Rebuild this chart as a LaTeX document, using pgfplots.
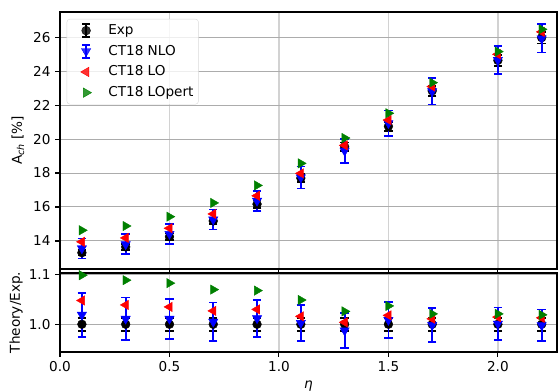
\documentclass[border=0pt]{standalone}
\usepackage{fontspec}
\setmainfont{DejaVu Sans}
\usepackage{pgfplots}
\pgfplotsset{compat=1.18}
\definecolor{mplgreen}{RGB}{0,128,0}
\pgfplotstableread{
x y e
0.1 13.31 0.17
0.3 13.65 0.18
0.5 14.25 0.19
0.7 15.18 0.20
0.9 16.17 0.21
1.1 17.70 0.23
1.3 19.55 0.25
1.5 20.75 0.27
1.7 22.84 0.30
2.0 24.63 0.32
2.2 25.97 0.34
}\exptab
\pgfplotstableread{
x y e
0.1 13.56 0.59
0.3 13.80 0.59
0.5 14.41 0.57
0.7 15.26 0.59
0.9 16.36 0.60
1.1 17.74 0.65
1.3 19.31 0.70
1.5 20.93 0.75
1.7 22.81 0.78
2.0 24.65 0.81
2.2 25.92 0.83
}\nlotab
\pgfplotstableread{
x y
0.1 13.95
0.3 14.18
0.5 14.75
0.7 15.59
0.9 16.66
1.1 17.98
1.3 19.63
1.5 21.12
1.7 23.09
2.0 24.99
2.2 26.31
}\lotab
\pgfplotstableread{
x y
0.1 14.63
0.3 14.88
0.5 15.43
0.7 16.24
0.9 17.27
1.1 18.57
1.3 20.06
1.5 21.52
1.7 23.32
2.0 25.15
2.2 26.46
}\lopttab
\pgfplotstableread{
x y e
0.1 1.0 0.013
0.3 1.0 0.013
0.5 1.0 0.013
0.7 1.0 0.013
0.9 1.0 0.013
1.1 1.0 0.013
1.3 1.0 0.013
1.5 1.0 0.013
1.7 1.0 0.013
2.0 1.0 0.013
2.2 1.0 0.013
}\expr
\pgfplotstableread{
x y e
0.1 1.019 0.044
0.3 1.011 0.043
0.5 1.011 0.040
0.7 1.005 0.039
0.9 1.012 0.037
1.1 1.0025 0.037
1.3 0.9875 0.036
1.5 1.0085 0.036
1.7 0.9985 0.034
2.0 1.001 0.033
2.2 0.998 0.032
}\nlor
\pgfplotstableread{
x y
0.1 1.048
0.3 1.039
0.5 1.035
0.7 1.027
0.9 1.030
1.1 1.016
1.3 1.004
1.5 1.018
1.7 1.011
2.0 1.0145
2.2 1.013
}\lor
\pgfplotstableread{
x y
0.1 1.099
0.3 1.089
0.5 1.083
0.7 1.070
0.9 1.068
1.1 1.049
1.3 1.026
1.5 1.037
1.7 1.021
2.0 1.021
2.2 1.019
}\loptr
\begin{document}
\fontsize{13.6bp}{16bp}\selectfont
\begin{tikzpicture}
\pgfplotsset{
  myax/.style={
    scale only axis, width=497bp, xmin=0, xmax=2.27,
    xtick={0,0.5,1,1.5,2},
    tick align=outside, xtick pos=left, ytick pos=left,
    major tick length=4.8bp,
    every tick/.style={black, line width=1.1bp},
    axis line style={line width=1.1bp, black},
    xmajorgrids, ymajorgrids,
    major x grid style={gray!35, line width=1.5bp},
    major y grid style={gray!65, line width=1bp},
    /pgf/number format/assume math mode=true,
    tick label style={font=\fontsize{13.6bp}{16bp}\selectfont},
    label style={font=\fontsize{13.6bp}{16bp}\selectfont},
    every axis plot/.append style={only marks},
  },
  errstyle/.style={/pgfplots/error bars/.cd, y dir=both, y explicit,
    error mark options={rotate=90, mark size=4.2bp, line width=1.8bp, #1},
    error bar style={line width=1.8bp, #1}, /pgfplots/.cd},
  markleg/.style={legend image code/.code={\path (0bp,0bp) (36bp,0bp);
    \draw[mark repeat=2,mark phase=2,##1] plot coordinates {(0bp,0bp)(16bp,0bp)(32bp,0bp)};}},
  errleg/.style={legend image code/.code={\path (0bp,0bp) (36bp,0bp);
    \draw[#1, line width=1.8bp] (16bp,-6.5bp)--(16bp,6.5bp) (12bp,-6.5bp)--(20bp,-6.5bp) (12bp,6.5bp)--(20bp,6.5bp);
    \draw[mark repeat=2,mark phase=2,##1] plot coordinates {(0bp,0bp)(16bp,0bp)(32bp,0bp)};}},
  emark/.style={mark=*, mark size=4.4bp, color=black},
  nmark/.style={mark=triangle*, mark size=5.4bp, color=blue, mark options={rotate=180}},
  lmark/.style={mark=triangle*, mark size=5.4bp, color=red, mark options={rotate=90}},
  pmark/.style={mark=triangle*, mark size=5.4bp, color=mplgreen, mark options={rotate=-90}},
}
\begin{axis}[myax, at={(60bp,123bp)}, anchor=south west, height=257bp,
  ymin=12.35, ymax=27.48, ytick={14,16,...,26},
  xticklabels={},
  ylabel={A\textsubscript{\itshape ch} [\%]},
  every axis y label/.style={at={(axis description cs:-0.0845,0.5)}, rotate=90, anchor=center},
  legend cell align=left,
  legend style={at={(0.0135,0.973)}, anchor=north west, draw=gray!30, rounded corners=3bp,
    fill=white, fill opacity=0.8, text opacity=1, draw opacity=1, inner xsep=3bp, inner ysep=3.5bp,
    row sep=4.6bp, font=\fontsize{13.6bp}{16bp}\selectfont},
  markleg,
]
\addplot[emark, errstyle=black, errleg=black]
  table[x=x, y=y, y error=e] {\exptab};
\addlegendentry{Exp}
\addplot[nmark, errstyle=blue, errleg=blue]
  table[x=x, y=y, y error=e] {\nlotab};
\addlegendentry{CT18 NLO}
\addplot[lmark] table[x=x, y=y] {\lotab};
\addlegendentry{CT18 LO}
\addplot[pmark] table[x=x, y=y] {\lopttab};
\addlegendentry{CT18 LOpert}
\end{axis}
\begin{axis}[myax, at={(60bp,40bp)}, anchor=south west, height=79bp,
  ymin=0.944, ymax=1.1035, ytick={1.0,1.1},
  xticklabel style={/pgf/number format/.cd, fixed, fixed zerofill, precision=1},
  yticklabel style={/pgf/number format/.cd, fixed, fixed zerofill, precision=1},
  xlabel={\itshape η},
  ylabel={Theory/Exp.},
  every axis y label/.style={at={(axis description cs:-0.0885,0.5)}, rotate=90, anchor=center},
]
\addplot[emark, errstyle=black] table[x=x, y=y, y error=e] {\expr};
\addplot[nmark, errstyle=blue] table[x=x, y=y, y error=e] {\nlor};
\addplot[lmark] table[x=x, y=y] {\lor};
\addplot[pmark] table[x=x, y=y] {\loptr};
\end{axis}
\pgfresetboundingbox
\path (0bp,0bp) rectangle (558bp,392bp);
\end{tikzpicture}
\end{document}
